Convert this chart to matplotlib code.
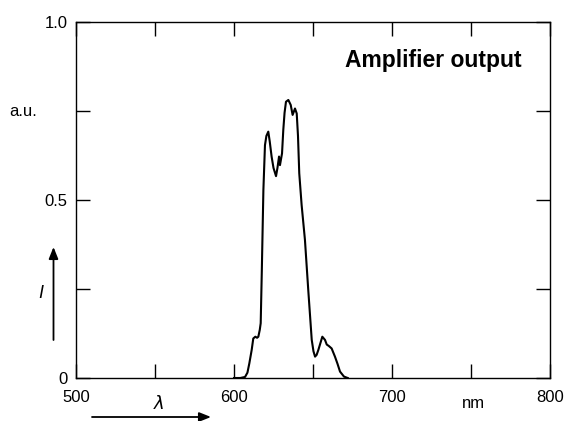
import matplotlib
matplotlib.use("Agg")
import matplotlib.pyplot as plt
from matplotlib.patches import FancyArrowPatch

plt.rcParams['font.family'] = ['Liberation Sans', 'DejaVu Sans']

# Data
wavelength = [600, 604, 607, 608.5, 609.7, 611.2, 612.2, 613.5, 614.6, 615.4, 616.3, 616.9,
              617.6, 618.6, 619.6, 620.5, 621.7, 622.6, 623.8, 625.0, 626.6, 627.5,
              628.5, 629.1, 630.4, 631.2, 632.0, 632.9, 634.4, 635.9, 637.1, 638.6,
              639.7, 640.5, 641.3, 642.8, 644.9, 647.0, 649.2, 650.3, 651.3, 652.3,
              653.4, 655.9, 657.6, 658.7, 660.0, 661.8, 663.9, 665.5, 667.1, 669.6, 672]
intensity = [0.0, 0.0, 0.003, 0.015, 0.041, 0.079, 0.111, 0.116, 0.113, 0.116, 0.135, 0.154,
             0.30, 0.528, 0.654, 0.680, 0.692, 0.665, 0.622, 0.590, 0.567, 0.590,
             0.622, 0.598, 0.631, 0.697, 0.745, 0.776, 0.781, 0.767, 0.739, 0.757,
             0.743, 0.680, 0.575, 0.486, 0.388, 0.247, 0.107, 0.075, 0.060, 0.065,
             0.079, 0.116, 0.107, 0.094, 0.090, 0.083, 0.060, 0.040, 0.018, 0.004, 0.0]

x_labels = [500, 600, 700, 800]
x_minor = [550, 650, 750]
y_labels = ['0', '0.5', '1.0']
y_label_pos = [0, 0.5, 1.0]
y_minor = [0.25, 0.75]

fig = plt.figure(figsize=(5.69, 4.21), dpi=100)
ax = fig.add_axes([76/569, 1-378/421, (550-76)/569, (378-22)/421])
ax.plot(wavelength, intensity, color='black', lw=1.5)
ax.set_xlim(500, 800)
ax.set_ylim(0, 1.0)

ax.set_xticks(x_labels + x_minor)
ax.set_xticklabels([str(v) for v in x_labels] + [''] * len(x_minor))
ax.set_yticks(y_label_pos + y_minor)
ax.set_yticklabels(y_labels + [''] * len(y_minor))
ax.tick_params(direction='in', length=10, width=1.0, top=True, right=True,
               labelsize=12)
ax.tick_params(axis='x', pad=9)
ax.tick_params(axis='y', pad=6)
for s in ax.spines.values():
    s.set_linewidth(1.0)

fig.text(522/569, 1-67.3/421, 'Amplifier output', ha='right', va='baseline',
         fontsize=16.5, fontweight='bold')

fig.text(23/569, 1-112/421, 'a.u.', ha='center', va='center', fontsize=12)
fig.text(473/569, 1-404/421, 'nm', ha='center', va='center', fontsize=12)
fig.text(159/569, 1-404/421, r'$\lambda$', ha='center', va='center', fontsize=13)
fig.text(40.5/569, 1-294/421, 'I', ha='center', va='center', fontsize=13, style='italic')

arr1 = FancyArrowPatch((92/569, 1-417/421), (211/569, 1-417/421), transform=fig.transFigure,
                       arrowstyle='-|>,head_length=7,head_width=2.8', color='black', lw=1.3,
                       shrinkA=0, shrinkB=0)
arr2 = FancyArrowPatch((53.5/569, 1-340/421), (53.5/569, 1-247/421), transform=fig.transFigure,
                       arrowstyle='-|>,head_length=7,head_width=2.8', color='black', lw=1.3,
                       shrinkA=0, shrinkB=0)
fig.patches.extend([arr1, arr2])

fig.savefig('out.png', dpi=100)
